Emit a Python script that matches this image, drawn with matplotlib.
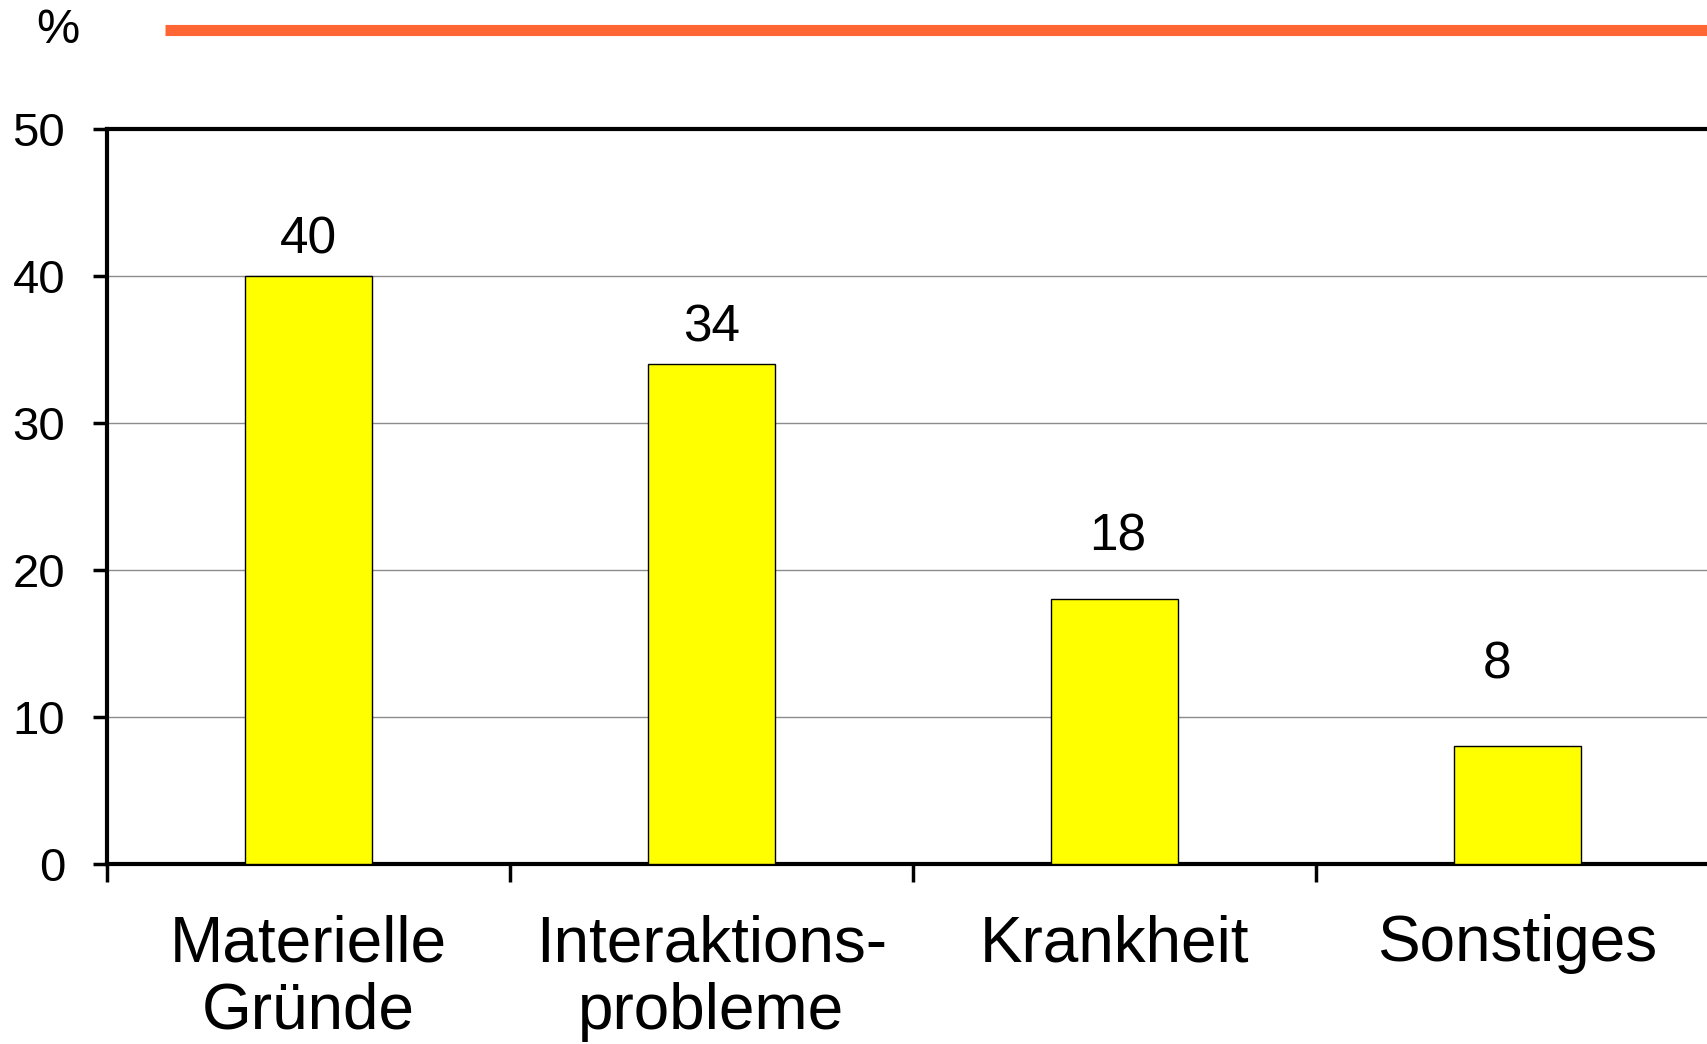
import matplotlib
matplotlib.use("Agg")
import matplotlib.pyplot as plt
import numpy as np
from matplotlib.lines import Line2D

plt.rcParams['font.family'] = ['Liberation Sans', 'DejaVu Sans']

# Data
categories = ["Materielle\nGründe", "Interaktions-\nprobleme", "Krankheit", "Sonstiges"]
values = [40, 34, 18, 8]
y_ticks = [0, 10, 20, 30, 40, 50]

# label placement offsets (points) above each bar
label_dx = [0, 0, 2, -15]
label_dy = [16, 16, 35, 49]

fig = plt.figure(figsize=(17.08, 10.44), dpi=100)
ax = fig.add_axes([0.06265, 0.17241, 0.94379, 0.70402])

centers = np.arange(len(categories)) + 0.5
bars = ax.bar(centers, values, width=0.315, color="#FFFF00",
              edgecolor="black", linewidth=1.0, zorder=3)

ax.set_xlim(0, len(categories))
ax.set_ylim(0, 50)
ax.set_yticks(y_ticks)
ax.yaxis.grid(True, color="#8c8c8c", linewidth=1.0, zorder=0)
ax.set_axisbelow(True)

# category boundaries carry the tick marks, names sit at the centres
ax.set_xticks(np.arange(len(categories) + 1))
ax.set_xticklabels([])
ax.set_xticks(centers, minor=True)
ax.set_xticklabels(categories, minor=True, fontsize=46, linespacing=1.17)
ax.tick_params(axis="x", which="major", direction="out", length=13, width=2.5)
ax.tick_params(axis="x", which="minor", length=0, pad=36)
ax.tick_params(axis="y", direction="out", length=10, width=2.5, pad=20,
               labelsize=34)

for side in ("left", "bottom", "top"):
    ax.spines[side].set_linewidth(3.0)
    ax.spines[side].set_color("black")
ax.spines["right"].set_visible(False)

for c, v, dx, dy in zip(centers, values, label_dx, label_dy):
    ax.annotate(str(v), xy=(c, v), xytext=(dx, dy), textcoords="offset points",
                ha="center", va="baseline", fontsize=37)

# unit label and decorative header rule
fig.text(0.034, 0.971, "%", ha="center", va="center", fontsize=35)
fig.add_artist(Line2D([165 / 1708, 1.0], [1 - 29.5 / 1044, 1 - 29.5 / 1044],
                      transform=fig.transFigure, color="#FF6633",
                      linewidth=8, solid_capstyle="butt"))

fig.savefig("out.png", dpi=100)
